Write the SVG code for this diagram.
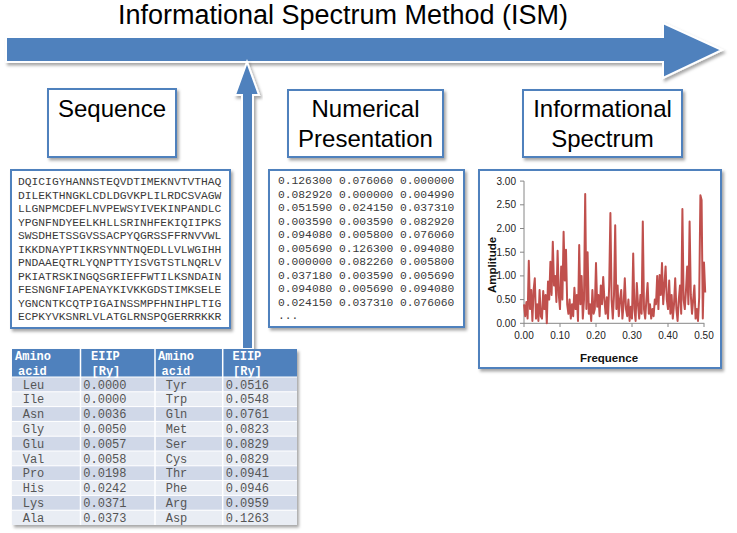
<svg xmlns="http://www.w3.org/2000/svg" width="737" height="533" viewBox="0 0 737 533">
<defs>
<filter id="sh" x="-10%" y="-10%" width="125%" height="130%">
<feDropShadow dx="2" dy="2.5" stdDeviation="1.5" flood-color="#000" flood-opacity="0.35"/>
</filter>
<style>
.bigarrow{fill:#4F81BD;stroke:#fff;stroke-width:2;stroke-linejoin:miter}
.title{font-family:"Liberation Sans",Arial,sans-serif;font-size:24px;fill:#000;text-anchor:middle}
.hbox{fill:#fff;stroke:#4F81BD;stroke-width:2}
.mono{font-family:"Liberation Mono","Courier New",monospace;font-size:11.3px;fill:#3a3a3a}
.tick{font-family:"Liberation Sans",Arial,sans-serif;font-size:10px;fill:#222}
.axt{font-family:"Liberation Sans",Arial,sans-serif;font-size:11.5px;font-weight:bold;fill:#111}
.axis{stroke:#868686;stroke-width:1;fill:none}
.th{font-family:"Liberation Mono","Courier New",monospace;font-size:12px;font-weight:bold;fill:#fff}
.td{font-family:"Liberation Mono","Courier New",monospace;font-size:12px;fill:#555}
.r1{fill:#D0D8E8}
.r2{fill:#E9EDF4}
</style>
</defs>
<rect width="737" height="533" fill="#fff"/>

<g id="title">
<text x="118" y="24" font-family="'Liberation Sans',Arial,sans-serif" font-size="27" textLength="450" lengthAdjust="spacingAndGlyphs" fill="#000">Informational Spectrum Method (ISM)</text>
</g>

<g id="main-arrow">
<path class="bigarrow" filter="url(#sh)" d="M6,37 L663,37 L663,23 L722,50 L663,78 L663,62 L6,62 Z"/>
</g>

<g id="connectors">
<path class="bigarrow" filter="url(#sh)" d="M242,349 L242,95 L235,95 L247,62 L259,95 L253,95 L253,349 Z"/>
</g>

<g id="box-sequence">
<rect class="hbox" filter="url(#sh)" x="48" y="89" width="128" height="68"/>
<text class="title" x="112" y="117">Sequence</text>
</g>

<g id="box-numerical">
<rect class="hbox" filter="url(#sh)" x="288" y="90" width="155" height="67"/>
<text class="title" x="365.5" y="117">Numerical</text>
<text class="title" x="365.5" y="147">Presentation</text>
</g>

<g id="box-spectrum">
<rect class="hbox" filter="url(#sh)" x="523" y="90" width="159" height="67"/>
<text class="title" x="602.5" y="117">Informational</text>
<text class="title" x="602.5" y="147">Spectrum</text>
</g>

<g id="sequence-text">
<rect class="hbox" filter="url(#sh)" x="11" y="170" width="219" height="158"/>
<text class="mono" x="18" y="185">DQICIGYHANNSTEQVDTIMEKNVTVTHAQ</text>
<text class="mono" x="18" y="198.5">DILEKTHNGKLCDLDGVKPLILRDCSVAGW</text>
<text class="mono" x="18" y="212">LLGNPMCDEFLNVPEWSYIVEKINPANDLC</text>
<text class="mono" x="18" y="225.5">YPGNFNDYEELKHLLSRINHFEKIQIIPKS</text>
<text class="mono" x="18" y="239">SWSDHETSSGVSSACPYQGRSSFFRNVVWL</text>
<text class="mono" x="18" y="252.5">IKKDNAYPTIKRSYNNTNQEDLLVLWGIHH</text>
<text class="mono" x="18" y="266">PNDAAEQTRLYQNPTTYISVGTSTLNQRLV</text>
<text class="mono" x="18" y="279.5">PKIATRSKINGQSGRIEFFWTILKSNDAIN</text>
<text class="mono" x="18" y="293">FESNGNFIAPENAYKIVKKGDSTIMKSELE</text>
<text class="mono" x="18" y="306.5">YGNCNTKCQTPIGAINSSMPFHNIHPLTIG</text>
<text class="mono" x="18" y="320">ECPKYVKSNRLVLATGLRNSPQGERRRKKR</text>
</g>

<g id="numerical-text">
<rect class="hbox" filter="url(#sh)" x="269" y="170" width="195" height="157"/>
<text class="mono" x="278" y="184">0.126300 0.076060 0.000000</text>
<text class="mono" x="278" y="197.5">0.082920 0.000000 0.004990</text>
<text class="mono" x="278" y="211">0.051590 0.024150 0.037310</text>
<text class="mono" x="278" y="224.5">0.003590 0.003590 0.082920</text>
<text class="mono" x="278" y="238">0.094080 0.005800 0.076060</text>
<text class="mono" x="278" y="251.5">0.005690 0.126300 0.094080</text>
<text class="mono" x="278" y="265">0.000000 0.082260 0.005800</text>
<text class="mono" x="278" y="278.5">0.037180 0.003590 0.005690</text>
<text class="mono" x="278" y="292">0.094080 0.005690 0.094080</text>
<text class="mono" x="278" y="305.5">0.024150 0.037310 0.076060</text>
<text class="mono" x="278" y="319">...</text>
</g>

<g id="spectrum-chart">
<rect class="hbox" filter="url(#sh)" x="479" y="170" width="242" height="198"/>
<path class="axis" d="M524,181.1 L524,323.3 L704.3,323.3"/>
<path class="axis" d="M520,323.3H524M520,299.6H524M520,275.9H524M520,252.2H524M520,228.5H524M520,204.8H524M520,181.1H524M524,323.3V327M560,323.3V327M596,323.3V327M632,323.3V327M668,323.3V327M704,323.3V327"/>
<g class="tick" text-anchor="end">
<text x="516" y="326.8">0.00</text>
<text x="516" y="303.1">0.50</text>
<text x="516" y="279.4">1.00</text>
<text x="516" y="255.7">1.50</text>
<text x="516" y="232">2.00</text>
<text x="516" y="208.3">2.50</text>
<text x="516" y="184.6">3.00</text>
</g>
<g class="tick" text-anchor="middle">
<text x="524" y="339">0.00</text>
<text x="560" y="339">0.10</text>
<text x="596" y="339">0.20</text>
<text x="632" y="339">0.30</text>
<text x="668" y="339">0.40</text>
<text x="704" y="339">0.50</text>
</g>
<text class="axt" x="609" y="362" text-anchor="middle">Frequence</text>
<text class="axt" x="0" y="0" text-anchor="middle" transform="translate(496,265) rotate(-90)">Amplitude</text>
<polyline fill="none" stroke="#C0504D" stroke-width="2" stroke-linejoin="round" points="524.0,304.3 525.2,316.2 526.4,302.0 527.6,318.6 528.8,260.7 530.0,309.1 531.2,290.1 532.4,320.9 533.6,290.1 534.8,278.3 536.0,318.6 537.2,304.3 538.4,320.9 539.6,290.1 540.8,316.2 542.0,318.6 543.2,291.1 544.4,309.1 545.6,294.9 546.8,323.3 548.0,281.6 549.2,299.6 550.4,261.7 551.6,294.9 552.8,241.8 554.0,285.4 555.2,275.9 556.4,302.0 557.6,250.8 558.8,294.9 560.0,309.1 561.2,266.4 562.4,299.6 563.6,231.8 564.8,280.6 566.0,249.8 567.2,304.3 568.4,313.8 569.6,299.6 570.8,318.6 572.0,304.3 573.2,316.2 574.4,287.7 575.6,309.1 576.8,294.9 578.0,320.9 579.2,245.1 580.4,304.3 581.6,275.9 582.8,318.6 584.0,299.6 585.2,193.9 586.4,309.1 587.6,252.2 588.8,313.8 590.0,304.3 591.2,320.9 592.4,290.1 593.6,313.8 594.8,309.1 596.0,263.1 597.2,306.7 598.4,294.9 599.6,316.2 600.8,285.4 602.0,304.3 603.2,276.9 604.4,299.6 605.6,313.8 606.8,297.2 608.0,318.6 609.2,285.4 610.4,212.9 611.6,299.6 612.8,318.6 614.0,294.9 615.2,225.2 616.4,309.1 617.6,285.4 618.8,316.2 620.0,299.6 621.2,290.1 622.4,318.6 623.6,304.3 624.8,278.3 626.0,309.1 627.2,316.2 628.4,299.6 629.6,320.9 630.8,306.7 632.0,318.6 633.2,253.6 634.4,309.1 635.6,320.9 636.8,283.0 638.0,304.3 639.2,318.6 640.4,294.9 641.6,313.8 642.8,221.4 644.0,309.1 645.2,318.6 646.4,299.6 647.6,283.0 648.8,313.8 650.0,304.3 651.2,318.6 652.4,309.1 653.6,316.2 654.8,299.6 656.0,304.3 657.2,275.9 658.4,309.1 659.6,275.0 660.8,294.9 662.0,263.1 663.2,304.3 664.4,285.4 665.6,266.4 666.8,299.6 668.0,309.1 669.2,280.6 670.4,313.8 671.6,294.9 672.8,318.6 674.0,304.3 675.2,278.3 676.4,309.1 677.6,320.9 678.8,299.6 680.0,285.4 681.2,313.8 682.4,209.1 683.6,299.6 684.8,309.1 686.0,290.1 687.2,266.4 688.4,304.3 689.6,221.4 690.8,294.9 692.0,313.8 693.2,299.6 694.4,285.4 695.6,318.6 696.8,309.1 698.0,320.9 699.2,297.2 700.4,195.3 701.6,200.1 702.8,318.6 704.0,262.6 705.2,292.5"/>
</g>

<g id="eiip-table">
<rect x="12" y="349" width="285" height="176" fill="#fff" filter="url(#sh)"/>
<rect x="12" y="349" width="285" height="28" fill="#4F81BD"/>
<rect class="r1" x="12" y="377" width="285" height="14.8"/>
<rect class="r2" x="12" y="391.8" width="285" height="14.8"/>
<rect class="r1" x="12" y="406.6" width="285" height="14.8"/>
<rect class="r2" x="12" y="421.4" width="285" height="14.8"/>
<rect class="r1" x="12" y="436.2" width="285" height="14.8"/>
<rect class="r2" x="12" y="451" width="285" height="14.8"/>
<rect class="r1" x="12" y="465.8" width="285" height="14.8"/>
<rect class="r2" x="12" y="480.6" width="285" height="14.8"/>
<rect class="r1" x="12" y="495.4" width="285" height="14.8"/>
<rect class="r2" x="12" y="510.2" width="285" height="14.8"/>
<path stroke="#fff" stroke-width="1.5" fill="none" d="M80.5,349V525M155,349V525M222.7,349V525"/>
<path stroke="#fff" stroke-width="1" fill="none" d="M12,377H297M12,391.8H297M12,406.6H297M12,421.4H297M12,436.2H297M12,451H297M12,465.8H297M12,480.6H297M12,495.4H297M12,510.2H297"/>
<text class="th" x="15" y="360">Amino</text>
<text class="th" x="18" y="375">acid</text>
<text class="th" x="91" y="360">EIIP</text>
<text class="th" x="91.5" y="375">[Ry]</text>
<text class="th" x="158" y="360">Amino</text>
<text class="th" x="161.5" y="375">acid</text>
<text class="th" x="232.5" y="360">EIIP</text>
<text class="th" x="233" y="375">[Ry]</text>
<g class="td">
<text x="22.7" y="388.6">Leu</text><text x="83.3" y="388.6">0.0000</text><text x="165.7" y="388.6">Tyr</text><text x="225.7" y="388.6">0.0516</text>
<text x="22.7" y="403.4">Ile</text><text x="83.3" y="403.4">0.0000</text><text x="165.7" y="403.4">Trp</text><text x="225.7" y="403.4">0.0548</text>
<text x="22.7" y="418.2">Asn</text><text x="83.3" y="418.2">0.0036</text><text x="165.7" y="418.2">Gln</text><text x="225.7" y="418.2">0.0761</text>
<text x="22.7" y="433">Gly</text><text x="83.3" y="433">0.0050</text><text x="165.7" y="433">Met</text><text x="225.7" y="433">0.0823</text>
<text x="22.7" y="447.8">Glu</text><text x="83.3" y="447.8">0.0057</text><text x="165.7" y="447.8">Ser</text><text x="225.7" y="447.8">0.0829</text>
<text x="22.7" y="462.6">Val</text><text x="83.3" y="462.6">0.0058</text><text x="165.7" y="462.6">Cys</text><text x="225.7" y="462.6">0.0829</text>
<text x="22.7" y="477.4">Pro</text><text x="83.3" y="477.4">0.0198</text><text x="165.7" y="477.4">Thr</text><text x="225.7" y="477.4">0.0941</text>
<text x="22.7" y="492.2">His</text><text x="83.3" y="492.2">0.0242</text><text x="165.7" y="492.2">Phe</text><text x="225.7" y="492.2">0.0946</text>
<text x="22.7" y="507">Lys</text><text x="83.3" y="507">0.0371</text><text x="165.7" y="507">Arg</text><text x="225.7" y="507">0.0959</text>
<text x="22.7" y="521.8">Ala</text><text x="83.3" y="521.8">0.0373</text><text x="165.7" y="521.8">Asp</text><text x="225.7" y="521.8">0.1263</text>
</g>
</g>
</svg>
